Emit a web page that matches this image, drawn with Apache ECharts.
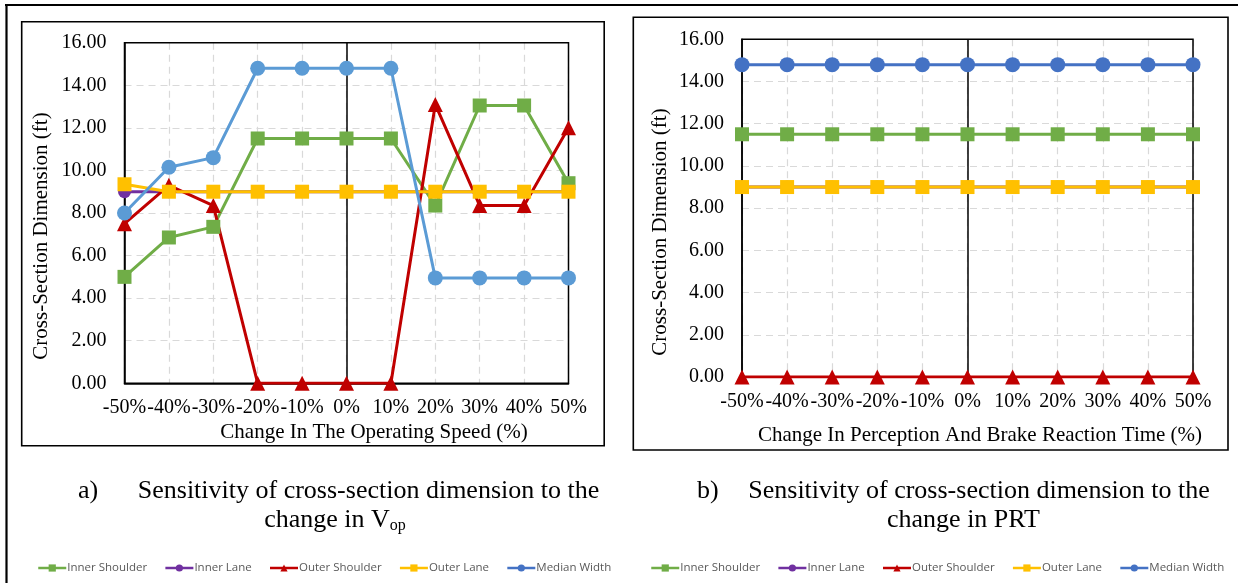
<!DOCTYPE html>
<html><head><meta charset="utf-8">
<script src="https://cdn.jsdelivr.net/npm/echarts@6/dist/echarts.min.js"></script>
<style>html,body{margin:0;padding:0;background:#fff}#c{width:1238px;height:583px}</style>
</head><body><div id="c"></div>
<script>
const categories = ['-50%','-40%','-30%','-20%','-10%','0%','10%','20%','30%','40%','50%'];
const seriesNames = ['Inner Shoulder','Inner Lane','Outer Shoulder','Outer Lane','Median Width'];
// Chart a) change in operating speed
const vopInnerShoulder = [5.0, 6.85, 7.35, 11.5, 11.5, 11.5, 11.5, 8.35, 13.05, 13.05, 9.4];
const vopInnerLane     = [9.0, 9.0, 9.0, 9.0, 9.0, 9.0, 9.0, 9.0, 9.0, 9.0, 9.0];
const vopOuterShoulder = [7.5, 9.3, 8.35, 0, 0, 0, 0, 13.1, 8.35, 8.35, 12.0];
const vopOuterLane     = [9.35, 9.0, 9.0, 9.0, 9.0, 9.0, 9.0, 9.0, 9.0, 9.0, 9.0];
const vopMedianWidth   = [8.0, 10.15, 10.6, 14.8, 14.8, 14.8, 14.8, 4.95, 4.95, 4.95, 4.95];
// Chart b) change in PRT
const prtInnerShoulder = [11.5, 11.5, 11.5, 11.5, 11.5, 11.5, 11.5, 11.5, 11.5, 11.5, 11.5];
const prtInnerLane     = [9.0, 9.0, 9.0, 9.0, 9.0, 9.0, 9.0, 9.0, 9.0, 9.0, 9.0];
const prtOuterShoulder = [0, 0, 0, 0, 0, 0, 0, 0, 0, 0, 0];
const prtOuterLane     = [9.0, 9.0, 9.0, 9.0, 9.0, 9.0, 9.0, 9.0, 9.0, 9.0, 9.0];
const prtMedianWidth   = [14.8, 14.8, 14.8, 14.8, 14.8, 14.8, 14.8, 14.8, 14.8, 14.8, 14.8];
const yTicks = {min: 0, max: 16, interval: 2};

const SERIF = 'Liberation Serif';
const colorsA = ['#70AD47','#7030A0','#C00000','#FFC000','#5B9BD5'];
const colorsB = ['#70AD47','#7030A0','#C00000','#FFC000','#4472C4'];
const legendColors = ['#70AD47','#7030A0','#C00000','#FFC000','#4472C4'];
const symbols = ['rect','circle','triangle','rect','circle'];
const symbolSizes = [14,13,15,14,15];

function mkSeries(idx, arrs, colors) {
  return arrs.map((d, i) => {
    const s = {
      name: seriesNames[i], type: 'line', xAxisIndex: idx, yAxisIndex: idx,
      data: d, symbol: symbols[i], symbolSize: symbolSizes[i],
      lineStyle: {color: colors[i], width: 3}, itemStyle: {color: colors[i]},
      emphasis: {disabled: true}, animation: false, z: 3
    };
    if (i === 0) {
      s.markLine = {silent: true, symbol: ['none','none'], label: {show: false}, z: 1,
        lineStyle: {color: '#000', width: 1.5, type: 'solid'}, data: [{xAxis: '0%'}], animation: false};
    }
    return s;
  });
}

function mkX(idx, margin) {
  return {gridIndex: idx, type: 'category', boundaryGap: false, data: categories,
    axisTick: {show: false}, axisLine: {lineStyle: {color: '#000', width: 1.5}},
    axisLabel: {color: '#000', fontFamily: SERIF, fontSize: 20, margin: margin, interval: 0},
    splitLine: {show: true, lineStyle: {color: '#D9D9D9', type: [7,5], width: 1.2}}};
}
function mkY(idx) {
  return {gridIndex: idx, type: 'value', min: yTicks.min, max: yTicks.max, interval: yTicks.interval,
    axisTick: {show: false}, axisLine: {show: true, lineStyle: {color: '#000', width: 1.5}},
    axisLabel: {color: '#000', fontFamily: SERIF, fontSize: 20, margin: 18, formatter: v => v.toFixed(2)},
    splitLine: {show: true, lineStyle: {color: '#D9D9D9', type: [7,5], width: 1.2}}};
}
function mkLegend(left) {
  return {left: left, top: 557, itemWidth: 28, itemHeight: 9, itemGap: 17,
    textStyle: {color: '#595959', fontFamily: 'Open Sans', fontSize: 11.5, padding: [0,0,0,-4]},
    data: seriesNames.map((n, i) => ({name: n, itemStyle: {color: legendColors[i]}, lineStyle: {color: legendColors[i], width: 2.5}}))};
}

const grids = [
  {left: 124.5, top: 42.7, width: 444, height: 340.6},
  {left: 742, top: 39.3, width: 451, height: 337.7}
];
function plotBorder(g) {
  return {type: 'rect', z: 1, silent: true, shape: {x: g.left, y: g.top, width: g.width, height: g.height},
    style: {stroke: '#000', lineWidth: 1.5, fill: 'none'}};
}

const chart = echarts.init(document.getElementById('c'), null, {renderer: 'canvas'});
chart.setOption({
  animation: false,
  backgroundColor: '#fff',
  grid: grids,
  xAxis: [mkX(0, 14), mkX(1, 15)],
  yAxis: [mkY(0), mkY(1)],
  legend: [mkLegend(32), mkLegend(645)],
  series: [
    ...mkSeries(0, [vopInnerShoulder, vopInnerLane, vopOuterShoulder, vopOuterLane, vopMedianWidth], colorsA),
    ...mkSeries(1, [prtInnerShoulder, prtInnerLane, prtOuterShoulder, prtOuterLane, prtMedianWidth], colorsB)
  ],
  graphic: [
    plotBorder(grids[0]), plotBorder(grids[1]),
    {type: 'line', shape: {x1: 5, y1: 5, x2: 1238, y2: 5}, style: {stroke: '#000', lineWidth: 2.2}, silent: true},
    {type: 'line', shape: {x1: 6.5, y1: 5, x2: 6.5, y2: 583}, style: {stroke: '#000', lineWidth: 2.2}, silent: true},
    {type: 'rect', shape: {x: 21.7, y: 21.7, width: 582.5, height: 424}, style: {stroke: '#000', lineWidth: 1.6, fill: 'none'}, silent: true},
    {type: 'rect', shape: {x: 633.3, y: 17.3, width: 594.7, height: 432.7}, style: {stroke: '#000', lineWidth: 1.6, fill: 'none'}, silent: true},
    {type: 'text', x: 41, y: 236, rotation: Math.PI/2, style: {text: 'Cross-Section Dimension (ft)', fontFamily: SERIF, fontSize: 21, fill: '#000', textAlign: 'center', textVerticalAlign: 'middle'}, silent: true},
    {type: 'text', x: 660, y: 232, rotation: Math.PI/2, style: {text: 'Cross-Section Dimension (ft)', fontFamily: SERIF, fontSize: 21, fill: '#000', textAlign: 'center', textVerticalAlign: 'middle'}, silent: true},
    {type: 'text', x: 374, y: 432, style: {text: 'Change In The Operating Speed (%)', fontFamily: SERIF, fontSize: 21, fill: '#000', textAlign: 'center', textVerticalAlign: 'middle'}, silent: true},
    {type: 'text', x: 980, y: 435, style: {text: 'Change In Perception And Brake Reaction Time (%)', fontFamily: SERIF, fontSize: 21, fill: '#000', textAlign: 'center', textVerticalAlign: 'middle'}, silent: true},
    {type: 'text', x: 78, y: 491, style: {text: 'a)', fontFamily: SERIF, fontSize: 26, fill: '#000', textAlign: 'left', textVerticalAlign: 'middle'}, silent: true},
    {type: 'text', x: 368.5, y: 491, style: {text: 'Sensitivity of cross-section dimension to the', fontFamily: SERIF, fontSize: 26, fill: '#000', textAlign: 'center', textVerticalAlign: 'middle'}, silent: true},
    {type: 'text', x: 335, y: 520, style: {text: '{m|change in V}{s|op}', fontFamily: SERIF, fontSize: 26, fill: '#000', textAlign: 'center', textVerticalAlign: 'middle',
      rich: {m: {fontFamily: SERIF, fontSize: 26, fill: '#000'}, s: {fontFamily: SERIF, fontSize: 16, fill: '#000', padding: [11,0,0,0]}}}, silent: true},
    {type: 'text', x: 697, y: 491, style: {text: 'b)', fontFamily: SERIF, fontSize: 26, fill: '#000', textAlign: 'left', textVerticalAlign: 'middle'}, silent: true},
    {type: 'text', x: 979, y: 491, style: {text: 'Sensitivity of cross-section dimension to the', fontFamily: SERIF, fontSize: 26, fill: '#000', textAlign: 'center', textVerticalAlign: 'middle'}, silent: true},
    {type: 'text', x: 963.5, y: 520, style: {text: 'change in PRT', fontFamily: SERIF, fontSize: 26, fill: '#000', textAlign: 'center', textVerticalAlign: 'middle'}, silent: true}
  ]
});
</script></body></html>
